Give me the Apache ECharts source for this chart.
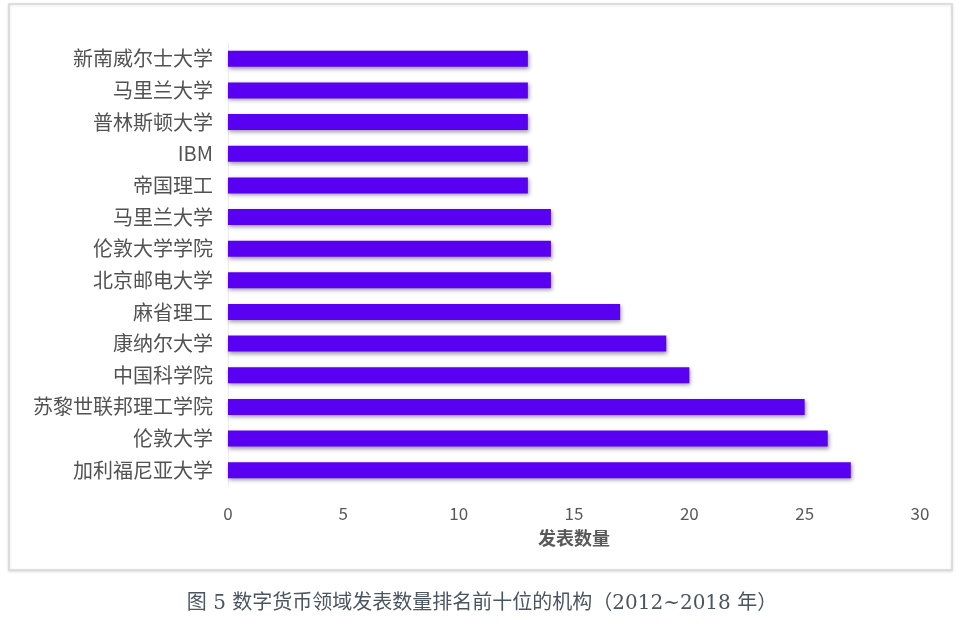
<!DOCTYPE html>
<html>
<head>
<meta charset="utf-8">
<script src="https://cdn.jsdelivr.net/npm/echarts@6/dist/echarts.min.js"></script>
<style>html,body{margin:0;padding:0;background:#fff;}#c{width:964px;height:627px;}</style>
</head>
<body>
<div id="c"></div>
<script>
const categories = ['加利福尼亚大学','伦敦大学','苏黎世联邦理工学院','中国科学院','康纳尔大学','麻省理工','北京邮电大学','伦敦大学学院','马里兰大学','帝国理工','IBM','普林斯顿大学','马里兰大学','新南威尔士大学'];
const values = [27,26,25,20,19,17,14,14,14,13,13,13,13,13];
const xTicks = [0,5,10,15,20,25,30];
const axisName = '发表数量';
const caption = '图 5 数字货币领域发表数量排名前十位的机构（2012~2018 年）';

const chart = echarts.init(document.getElementById('c'));
chart.setOption({
  animation: false,
  backgroundColor: '#fff',
  graphic: [
    {type:'rect', shape:{x:9,y:4,width:943,height:566}, style:{fill:'#fff', stroke:'#d6d6d6', lineWidth:1.5, shadowColor:'rgba(0,0,0,0.12)', shadowBlur:3, shadowOffsetY:1}, z:-10},
    {type:'text', left:'center', top:594, style:{text:caption, fill:'#4a5560', font:'20px "DejaVu Serif","Noto Sans CJK SC",serif'}}
  ],
  grid: {left:228, right:44, top:43, bottom:141, containLabel:false},
  xAxis: {
    type:'value', min:xTicks[0], max:xTicks[xTicks.length-1], interval:5,
    name: axisName, nameLocation:'middle', nameGap:43,
    nameTextStyle:{color:'#595959', fontSize:18, fontWeight:'bold', fontFamily:'"Noto Sans CJK SC"'},
    axisLine:{show:false}, axisTick:{show:false}, splitLine:{show:false},
    axisLabel:{color:'#595959', fontSize:17, margin:19, fontFamily:'"Noto Sans CJK SC"'}
  },
  yAxis: {
    type:'category', data:categories,
    axisLine:{show:true, lineStyle:{color:'#ececec', width:1}},
    axisTick:{show:false},
    axisLabel:{color:'#525252', fontSize:20, margin:15, fontFamily:'"Noto Sans CJK SC"'}
  },
  series: [{
    type:'bar', data:values, barWidth:16,
    itemStyle:{color:'#5a00f2', shadowColor:'rgba(40,20,60,0.45)', shadowBlur:4, shadowOffsetY:2, shadowOffsetX:1}
  }]
});
</script>
</body>
</html>
